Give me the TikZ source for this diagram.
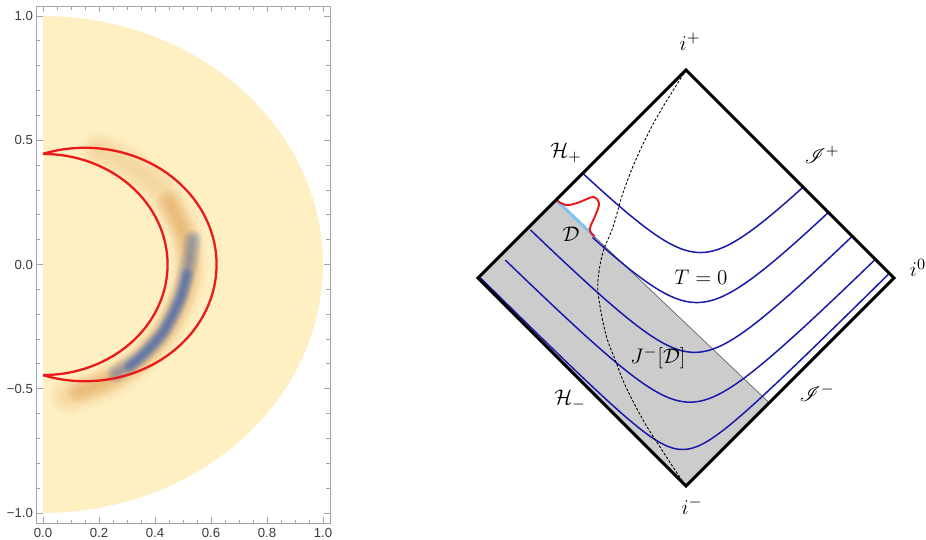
\documentclass[tikz,border=0pt]{standalone}
\usepackage{amsmath}
\usepackage{mathrsfs}
\usepackage{fontspec}
\newfontfamily\tickfont{Liberation Sans}
\usetikzlibrary{calc}

\definecolor{plotyellow}{RGB}{255,240,195}
\definecolor{crescentred}{RGB}{235,25,25}
\definecolor{densorange}{RGB}{220,140,50}
\definecolor{densblue}{RGB}{45,95,190}
\definecolor{framegray}{RGB}{165,165,165}
\definecolor{ticktext}{RGB}{60,60,60}
\definecolor{sliceblue}{RGB}{25,25,170}
\definecolor{regionblue}{RGB}{130,195,240}

% one T = const slice: p, q, r, start P, path prefix
\newcommand{\tslice}[5]{%
  \pgfmathsetmacro{\slstart}{ln((#3)/((#1)-(#4)))}%
  \pgfmathsetmacro{\slend}{ln((1-(#2))/(#3))}%
  \draw[slice] #5 plot[domain=\slstart:\slend, samples=90, variable=\t]
    ({686+104*((#1)+(#2)-(#3)*exp(-\t)+(#3)*exp(\t))},
     {278+104*((#1)-(#2)-(#3)*exp(-\t)-(#3)*exp(\t))});%
}

\begin{document}
\begin{tikzpicture}[
    x=0.02cm, y=-0.02cm,
    edge/.style={line width=1.7pt, line join=miter},
    slice/.style={sliceblue, line width=0.85pt},
    blur/.style={line cap=round, line join=round},
    penlabel/.style={font=\fontsize{13}{15}\selectfont, inner sep=0pt},
    ticklab/.style={font=\tickfont\fontsize{7.5}{9}\selectfont, text=ticktext, inner sep=0pt},
    tickline/.style={framegray, line width=0.5pt}
]
\useasboundingbox (0,0) rectangle (926,540);

%------------------------------------------------
% Left: density plot
%------------------------------------------------
\begin{scope}[shift={(43,264.5)}, x=5.6cm, y=4.97cm]

\fill[plotyellow] (0,-1) -- plot[domain=-90:90, samples=120] ({cos(\x)},{sin(\x)}) -- cycle;

% density band
\foreach \w in {4,6,...,22}
  \draw[blur, densorange, opacity=0.025, line width=\w pt]
    plot[smooth] coordinates {(0.20,0.46) (0.31,0.40) (0.42,0.30) (0.50,0.15) (0.525,0)
      (0.50,-0.12) (0.44,-0.26) (0.34,-0.39) (0.22,-0.48) (0.09,-0.53)};
\foreach \w in {3,5,...,15}
  \draw[blur, densorange, opacity=0.05, line width=\w pt]
    plot[smooth] coordinates {(0.45,0.25) (0.51,0.10) (0.52,0) (0.50,-0.12) (0.44,-0.26)
      (0.34,-0.39) (0.22,-0.47) (0.13,-0.51)};
\foreach \w in {2,3.5,...,12}
  \draw[blur, densblue, opacity=0.07, line width=\w pt]
    plot[smooth] coordinates {(0.535,0.10) (0.52,0) (0.49,-0.13) (0.43,-0.27) (0.35,-0.37)
      (0.26,-0.44)};
\foreach \w in {1.5,3,...,7.5}
  \draw[blur, densblue, opacity=0.12, line width=\w pt]
    plot[smooth] coordinates {(0.515,-0.04) (0.49,-0.14) (0.43,-0.27) (0.36,-0.36) (0.31,-0.41)};

% crescent
\draw[crescentred, line width=1.3pt] plot[domain=90:-90, samples=100] ({0.445*cos(\x)},{0.445*sin(\x)});
\draw[crescentred, line width=1.3pt] plot[domain=108.6:-108.6, samples=100] ({0.15+0.47*cos(\x)},{0.47*sin(\x)});

% frame and ticks
\draw[tickline] (-0.0225,-1.041) rectangle (1.025,1.040);
\foreach \i in {-10,...,10}
  \draw[tickline] (-0.0225,\i/10) -- ++(2pt,0) (1.025,\i/10) -- ++(-2pt,0);
\foreach \i in {-2,...,2}
  \draw[tickline] (-0.0225,\i/2) -- ++(3.5pt,0) (1.025,\i/2) -- ++(-3.5pt,0);
\foreach \i in {0,...,20}
  \draw[tickline] (\i/20,-1.041) -- ++(0,2pt) (\i/20,1.040) -- ++(0,-2pt);
\foreach \i in {0,...,5}
  \draw[tickline] (\i/5,-1.041) -- ++(0,3.5pt) (\i/5,1.040) -- ++(0,-3.5pt);

\foreach \v/\lab [count=\n] in {-1/−1.0,-0.5/−0.5,0/0.0,0.5/0.5,1/1.0}
  \node[ticklab, anchor=east, xshift=-2pt] (ylab\n) at (-0.0225,\v) {\lab};
\foreach \v/\lab [count=\n] in {0/0.0,0.2/0.2,0.4/0.4,0.6/0.6,0.8/0.8,1/1.0}
  \node[ticklab, anchor=north, yshift=-3pt] (xlab\n) at (\v,-1.041) {\lab};

\end{scope}

%------------------------------------------------
% Right: Penrose diagram
%------------------------------------------------
\coordinate (iplus) at (686,70);
\coordinate (izero) at (894,278);
\coordinate (iminus) at (686,486);
\coordinate (bif) at (478,278);
\coordinate (G1) at ($(bif)!0.375!(iplus)$);
\coordinate (G2) at ($(iminus)!0.4!(izero)$);
\coordinate (dend) at ($(G1)!0.18!(G2)$);

% causal past J^-[D]
\fill[black!20, draw=black!60, line width=0.4pt] (G1) -- (bif) -- (iminus) -- (G2) -- cycle;

% slices
\tslice{0.177}{-0.038}{0.230}{-1}{}
\tslice{0.415}{-0.311}{0.245}{-0.64}{(dend) --}
\tslice{0.634}{-0.551}{0.235}{-1}{}
\tslice{0.851}{-0.813}{0.235}{-1}{}
\tslice{0.968}{-1.001}{0.16}{-1}{}

% worldline
\draw[line width=0.5pt, dash pattern=on 1.5pt off 1pt]
  plot[smooth, tension=0.6] coordinates {(iplus) (657,117) (637,157) (623,193) (613,227)
    (603,252) (598,280) (599,300) (606,335) (616,362) (625,385) (643,420) (660,447)
    (677,473) (iminus)};

% region D and its deformation
\draw[regionblue, line width=1.8pt] (G1) -- (dend);
\draw[crescentred, line width=1.1pt] plot[smooth, tension=0.6] coordinates {(G1) (566,205)
  (577,203) (587,199) (594,197) (599,203) (596,214) (591,225) (590,231) (dend)};

% boundary
\draw[edge] (iplus) -- (izero) -- (iminus) -- (bif) -- cycle;

% labels
\node[penlabel] (lip) at (690,42) {$i^+$};
\node[penlabel] (liz) at (918,268) {$i^0$};
\node[penlabel] (lim) at (692,506) {$i^-$};
\node[penlabel] (lhp) at (566,153) {$\mathcal{H}_+$};
\node[penlabel] (lhm) at (570,400) {$\mathcal{H}_-$};
\node[penlabel] (lsp) at (822,155) {$\mathscr{I}^+$};
\node[penlabel] (lsm) at (817,393) {$\mathscr{I}^-$};
\node[penlabel] (lt) at (701,277) {$T=0$};
\node[penlabel] (ld) at (571,234) {$\mathcal{D}$};
\node[penlabel] (lj) at (658,358) {$J^-[\mathcal{D}]$};

\end{tikzpicture}
\end{document}
